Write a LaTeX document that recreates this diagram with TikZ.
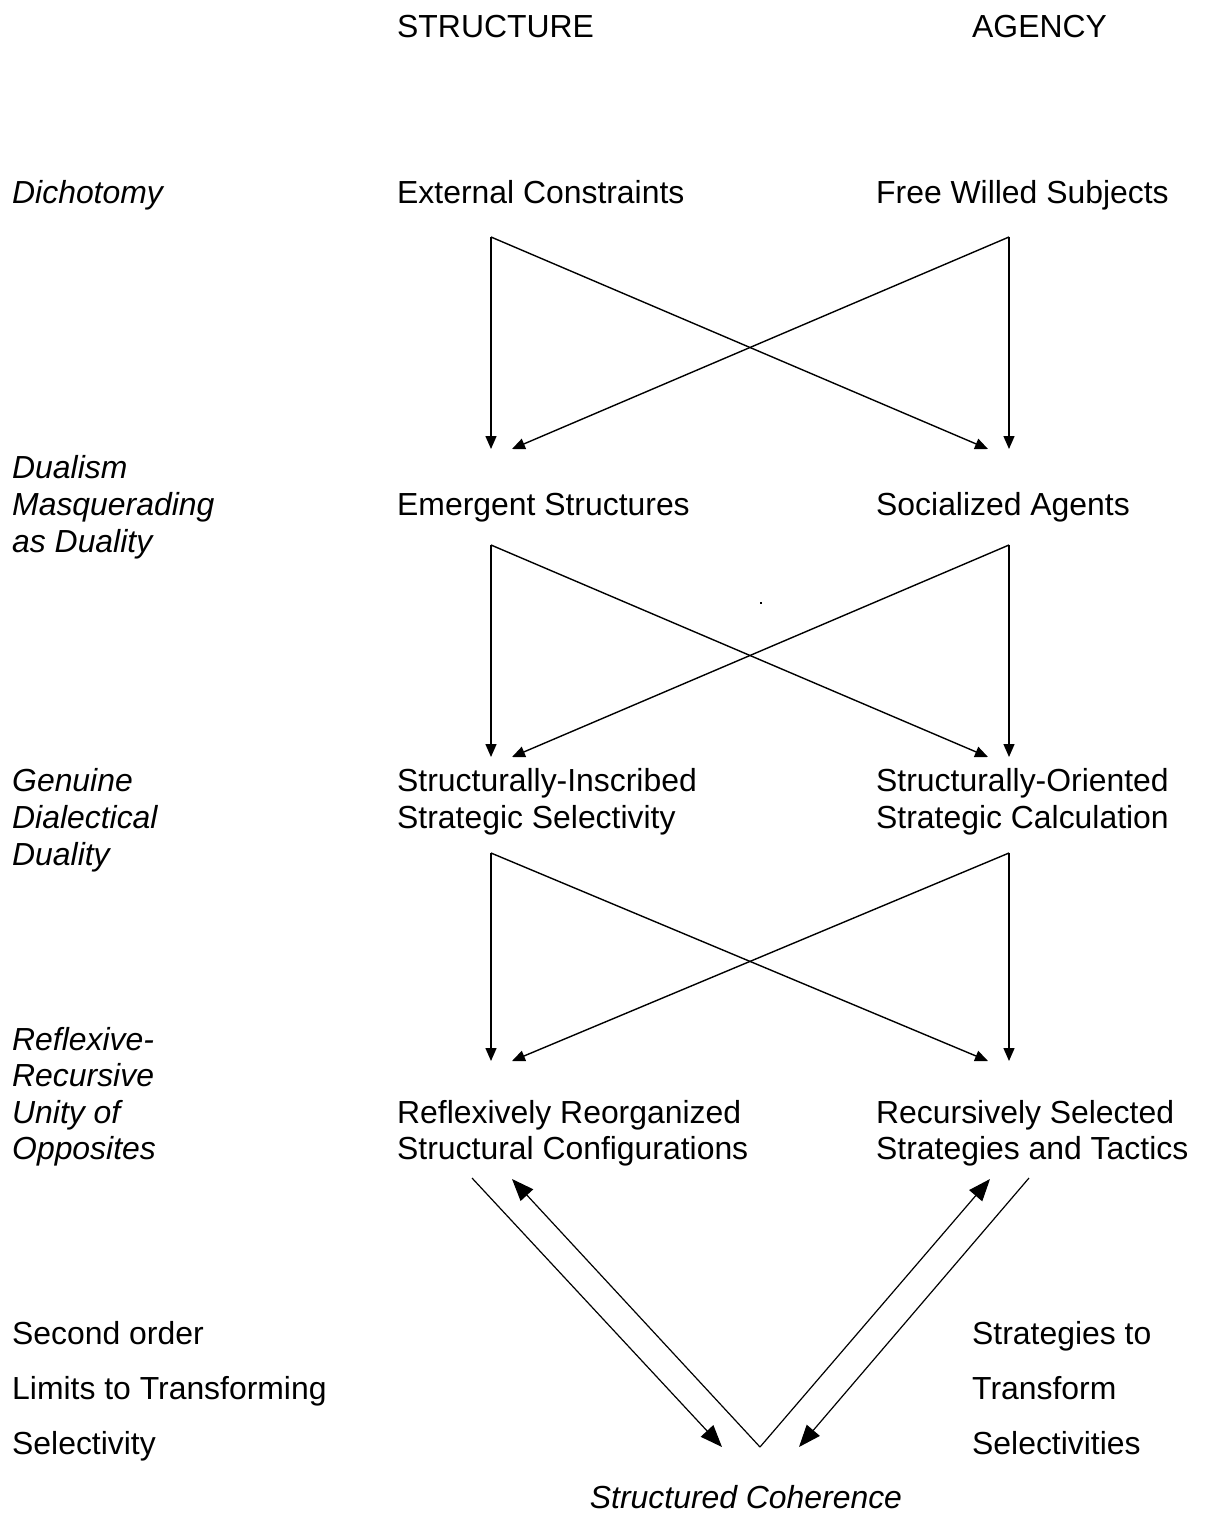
\documentclass[tikz,border=0pt]{standalone}
\usepackage{fontspec}
\setmainfont{Liberation Sans}
\usetikzlibrary{arrows.meta}
\begin{document}
\begin{tikzpicture}[x=1pt,y=-1pt,
  lbl/.style={anchor=base west,inner sep=0pt,font=\fontsize{31.9}{36.7}\selectfont},
  ilbl/.style={lbl,font=\fontsize{31.9}{36.7}\selectfont\itshape},
  arr/.style={line width=1.4pt,-{Triangle[length=13pt,width=11pt]}},
  barr/.style={line width=1.2pt,-{Triangle[length=22pt,width=17pt]}}]
\useasboundingbox (0,0) rectangle (1205,1513);
% headings
\node[lbl] (hs) at (397,37) {STRUCTURE};
\node[lbl] (ha) at (972,37) {AGENCY};
% left column
\node[ilbl] (l1) at (12,203) {Dichotomy};
\node[ilbl] (l2a) at (12,478) {Dualism};
\node[ilbl] (l2b) at (12,515) {Masquerading};
\node[ilbl] (l2c) at (12,552) {as Duality};
\node[ilbl] (l3a) at (12,791) {Genuine};
\node[ilbl] (l3b) at (12,828) {Dialectical};
\node[ilbl] (l3c) at (12,865) {Duality};
\node[ilbl] (l4a) at (12,1050) {Reflexive-};
\node[ilbl] (l4b) at (12,1086) {Recursive};
\node[ilbl] (l4c) at (12,1123) {Unity of};
\node[ilbl] (l4d) at (12,1159) {Opposites};
% structure column
\node[lbl] (s1) at (397,203) {External Constraints};
\node[lbl] (s2) at (397,515) {Emergent Structures};
\node[lbl] (s3a) at (397,791) {Structurally-Inscribed};
\node[lbl] (s3b) at (397,828) {Strategic Selectivity};
\node[lbl] (s4a) at (397,1123) {Reflexively Reorganized};
\node[lbl] (s4b) at (397,1159) {Structural Configurations};
% agency column
\node[lbl] (a1) at (876,203) {Free Willed Subjects};
\node[lbl] (a2) at (876,515) {Socialized Agents};
\node[lbl] (a3a) at (876,791) {Structurally-Oriented};
\node[lbl] (a3b) at (876,828) {Strategic Calculation};
\node[lbl] (a4a) at (876,1123) {Recursively Selected};
\node[lbl] (a4b) at (876,1159) {Strategies and Tactics};
% bottom labels
\node[lbl] (b1) at (12,1344) {Second order};
\node[lbl] (b2) at (12,1399) {Limits to Transforming};
\node[lbl] (b3) at (12,1454) {Selectivity};
\node[lbl] (c1) at (972,1344) {Strategies to};
\node[lbl] (c2) at (972,1399) {Transform};
\node[lbl] (c3) at (972,1454) {Selectivities};
\node[ilbl,anchor=base] (sc) at (746,1508) {Structured Coherence};
% connector coordinates
\foreach \i/\top/\bot in {1/237/449,2/545/757,3/853/1061}{
  \coordinate (sl\i) at (491,\top);
  \coordinate (sr\i) at (1009,\top);
  \coordinate (el\i) at (491,\bot);
  \coordinate (er\i) at (1009,\bot);
  \coordinate (xl\i) at (512,\bot);
  \coordinate (xr\i) at (988,\bot);
  \draw[arr] (sl\i) -- (el\i);
  \draw[arr] (sr\i) -- (er\i);
  \draw[arr] (sl\i) -- (xr\i);
  \draw[arr] (sr\i) -- (xl\i);
}
% small dot
\fill (760,602) rectangle (762,604);
% bottom arrows
\coordinate (p1) at (472,1178);
\coordinate (q1) at (722,1447);
\coordinate (v) at (760,1447);
\coordinate (p2) at (512,1179);
\coordinate (p3) at (990,1179);
\coordinate (p4) at (1029,1178);
\coordinate (q4) at (799,1447);
\draw[barr] (p1) -- (q1);
\draw[barr] (v) -- (p2);
\draw[barr] (v) -- (p3);
\draw[barr] (p4) -- (q4);
\end{tikzpicture}
\end{document}
